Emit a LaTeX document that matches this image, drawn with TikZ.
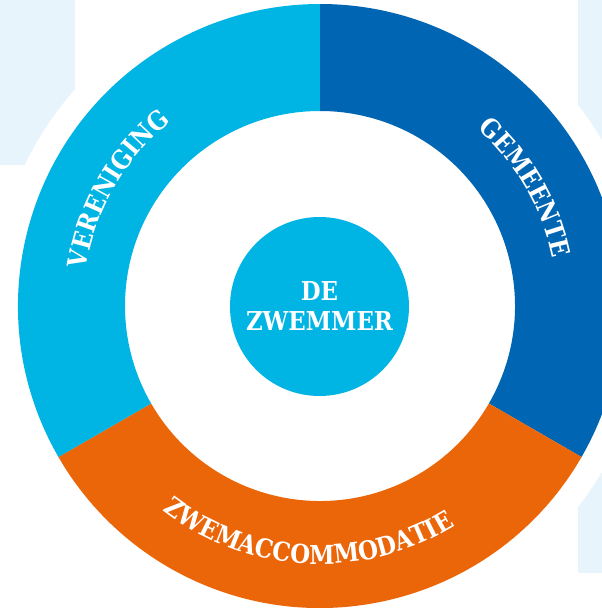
\documentclass[tikz,border=0pt]{standalone}
\usepackage{fontspec}
\setmainfont{DejaVu Serif}[FakeStretch=0.88]
\usetikzlibrary{decorations.text}
\definecolor{lblue}{RGB}{0,180,228}
\definecolor{dblue}{RGB}{0,102,179}
\definecolor{orng}{RGB}{235,102,8}
\definecolor{bgblue}{RGB}{232,244,252}
\tikzset{
  ringtext/.style={decorate, decoration={text along path, text align=center, text color=white,
     text={|\fontsize{26}{26}\selectfont\bfseries|#1}}},
}
\begin{document}
\begin{tikzpicture}[x=1pt,y=1pt]
\useasboundingbox (-320,-302) rectangle (282,306);
\clip (-320,-302) rectangle (282,306);
% background panels
\fill[bgblue] (-320,306) rectangle (-245,141);
\fill[bgblue] (258,306) rectangle (282,-267);
\fill[white] (0,0) circle (327);
% ring segments
\fill[dblue] (90:302) arc[start angle=90,end angle=-30,radius=302] -- (-30:195)
  arc[start angle=-30,end angle=90,radius=195] -- cycle;
\fill[orng] (-30:302) arc[start angle=-30,end angle=-150,radius=302] -- (-150:195)
  arc[start angle=-150,end angle=-30,radius=195] -- cycle;
\fill[lblue] (210:302) arc[start angle=210,end angle=90,radius=302] -- (90:195)
  arc[start angle=90,end angle=210,radius=195] -- cycle;
% ring labels
\path[ringtext={VERENIGING}] (200:237) arc[start angle=200,end angle=100,radius=237];
\path[ringtext={GEMEENTE}] (80:237) arc[start angle=80,end angle=-20,radius=237];
\path[ringtext={ZWEMACCOMMODATIE}] (195:258) arc[start angle=195,end angle=339,radius=258];
% centre
\node[circle, fill=lblue, minimum size=179, inner sep=0pt, text=white, align=center,
  font=\fontsize{26}{30}\selectfont\bfseries] (zwemmer) at (-0.5,-0.5) {DE\\ZWEMMER};
\end{tikzpicture}
\end{document}
